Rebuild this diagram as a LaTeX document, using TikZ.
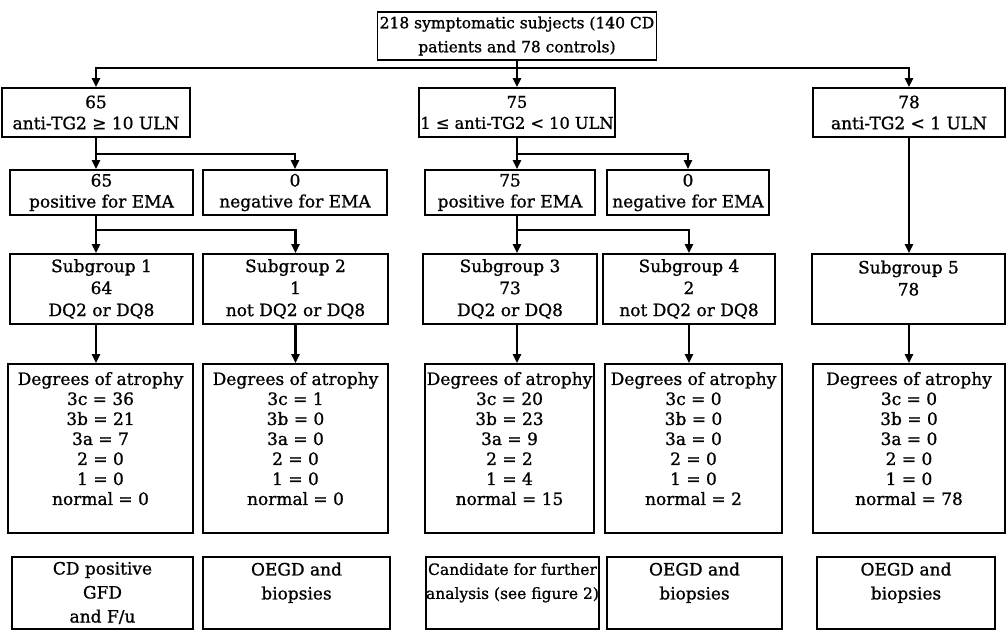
\documentclass[tikz,border=0pt]{standalone}
\usepackage{fontspec}
\setmainfont{DejaVu Serif}[BoldFont={DejaVu Serif}, BoldFeatures={FakeBold=1}]
\usetikzlibrary{arrows.meta}
\begin{document}
\begin{tikzpicture}[x=1pt,y=-1pt,
  box/.style={draw, line width=1.8pt, inner sep=0pt, align=center, font=\fontsize{17}{21}\selectfont\bfseries},
  atro/.style={box, font=\fontsize{17}{20}\selectfont\bfseries},
  bot/.style={box, font=\fontsize{17}{24}\selectfont\bfseries},
  arr/.style={line width=2.2pt, -{Triangle[length=9pt,width=8pt]}}]
\useasboundingbox (0,0) rectangle (1007,634);

% top
\node[box, font=\fontsize{15.5}{24}\selectfont\bfseries, minimum width=279pt, minimum height=48pt] (T) at (517,36) {218 symptomatic subjects (140 CD\\patients and 78 controls)};

% row 1
\node[box, minimum width=188pt, minimum height=49pt] (A1) at (96,112.5) {65\\anti-TG2 ≥ 10 ULN};
\node[box, font=\fontsize{16.2}{21}\selectfont\bfseries, minimum width=196pt, minimum height=49pt] (C1) at (517,112.5) {75\\1 ≤ anti-TG2 < 10 ULN};
\node[box, minimum width=192pt, minimum height=49pt] (E1) at (909,112.5) {78\\anti-TG2 < 1 ULN};

% row 2
\node[box, minimum width=183pt, minimum height=45pt] (A2) at (101.5,192.5) {65\\positive for EMA};
\node[box, minimum width=184pt, minimum height=45pt] (B2) at (295,192.5) {0\\negative for EMA};
\node[box, minimum width=170pt, minimum height=45pt] (C2) at (510,192.5) {75\\positive for EMA};
\node[box, minimum width=162pt, minimum height=45pt] (D2) at (688,192.5) {0\\negative for EMA};

% row 3
\node[box, font=\fontsize{17}{22}\selectfont\bfseries, minimum width=183pt, minimum height=70pt] (A3) at (101.5,289) {Subgroup 1\\64\\DQ2 or DQ8};
\node[box, font=\fontsize{17}{22}\selectfont\bfseries, minimum width=185pt, minimum height=70pt] (B3) at (295.5,289) {Subgroup 2\\1\\not DQ2 or DQ8};
\node[box, font=\fontsize{17}{22}\selectfont\bfseries, minimum width=174pt, minimum height=70pt] (C3) at (510,289) {Subgroup 3\\73\\DQ2 or DQ8};
\node[box, font=\fontsize{17}{22}\selectfont\bfseries, minimum width=172pt, minimum height=70pt] (D3) at (689,289) {Subgroup 4\\2\\not DQ2 or DQ8};
\node[box, font=\fontsize{17}{22}\selectfont\bfseries, minimum width=193pt, minimum height=70pt] (E3) at (908.5,289) {Subgroup 5\\78\\\mbox{}};

% row 4
\node[atro, minimum width=185pt, minimum height=169pt] (A4) at (100.5,448.5) {Degrees of atrophy\\3c = 36\\3b = 21\\3a = 7\\2 = 0\\1 = 0\\normal = 0\\\mbox{}};
\node[atro, minimum width=185pt, minimum height=169pt] (B4) at (295.5,448.5) {Degrees of atrophy\\3c = 1\\3b = 0\\3a = 0\\2 = 0\\1 = 0\\normal = 0\\\mbox{}};
\node[atro, minimum width=169pt, minimum height=169pt] (C4) at (509.5,448.5) {Degrees of atrophy\\3c = 20\\3b = 23\\3a = 9\\2 = 2\\1 = 4\\normal = 15\\\mbox{}};
\node[atro, minimum width=177pt, minimum height=169pt] (D4) at (693.5,448.5) {Degrees of atrophy\\3c = 0\\3b = 0\\3a = 0\\2 = 0\\1 = 0\\normal = 2\\\mbox{}};
\node[atro, minimum width=192pt, minimum height=169pt] (E4) at (909,448.5) {Degrees of atrophy\\3c = 0\\3b = 0\\3a = 0\\2 = 0\\1 = 0\\normal = 78\\\mbox{}};

% row 5
\node[bot, minimum width=181pt, minimum height=72pt] (A5) at (102.5,593) {CD positive\\GFD\\and F/u};
\node[bot, minimum width=187pt, minimum height=72pt] (B5) at (296.5,593) {OEGD and\\biopsies\\\mbox{}};
\node[bot, font=\fontsize{15.5}{24}\selectfont\bfseries, minimum width=171pt, minimum height=72pt] (C5) at (512.5,593) {Candidate for further\\analysis (see figure 2)\\\mbox{}};
\node[bot, minimum width=175pt, minimum height=72pt] (D5) at (694.5,593) {OEGD and\\biopsies\\\mbox{}};
\node[bot, minimum width=178pt, minimum height=72pt] (E5) at (906,593) {OEGD and\\biopsies\\\mbox{}};

% connectors
\coordinate (trunk) at (517,68);
\draw[arr] (T.south) -- (C1.north);
\draw[arr] (trunk) -| (A1.north);
\draw[arr] (trunk) -| (E1.north);

\draw[arr] (A1.south) -- (A1.south |- A2.north);
\draw[arr] (A1.south) -- ++(0,16) -| (B2.north);
\draw[arr] (C1.south) -- (C1.south |- C2.north);
\draw[arr] (C1.south) -- ++(0,16) -| (D2.north);

\draw[arr] (A2.south -| A1.south) -- (A3.north -| A1.south);
\draw[arr] (A2.south -| A1.south) -- ++(0,14) -| (B3.north);
\draw[arr] (C2.south -| C1.south) -- (C3.north -| C1.south);
\draw[arr] (C2.south -| C1.south) -- ++(0,14) -| (D3.north);
\draw[arr] (E1.south) -- (E3.north -| E1.south);

\draw[arr] (A3.south -| A1.south) -- (A4.north -| A1.south);
\draw[arr] (B3.south) -- (B3.south |- B4.north);
\draw[arr] (C3.south -| C1.south) -- (C4.north -| C1.south);
\draw[arr] (D3.south) -- (D3.south |- D4.north);
\draw[arr] (E3.south -| E1.south) -- (E4.north -| E1.south);
\end{tikzpicture}
\end{document}
